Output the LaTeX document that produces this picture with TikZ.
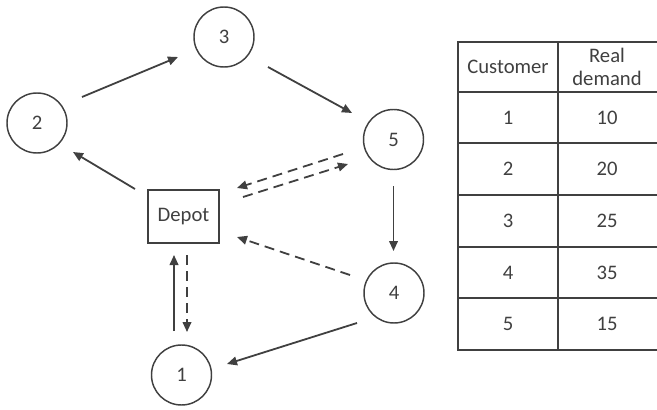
\documentclass[tikz,border=0pt]{standalone}
\usepackage{fontspec}
\setmainfont{Carlito}
\usetikzlibrary{arrows.meta,calc}
\definecolor{ink}{HTML}{404040}
\tikzset{
  cust/.style={circle,draw=ink,line width=1.1pt,minimum size=45pt,inner sep=0pt,text=ink},
  depotbox/.style={rectangle,draw=ink,line width=1.1pt,minimum width=53pt,minimum height=39.5pt,inner sep=0pt,text=ink},
  arr/.style={draw=ink,line width=1.35pt,-{Triangle[length=7.5pt,width=6.5pt]}},
  darr/.style={arr,dash pattern=on 7.5pt off 4.5pt},
  grid/.style={draw=ink,line width=1.1pt},
  cell/.style={text=ink,inner sep=0pt,align=center}
}
\begin{document}
\begin{tikzpicture}[x=0.75pt,y=-0.75pt,font=\fontsize{15.5}{17.5}\selectfont]
\useasboundingbox (0,0) rectangle (657,410);
% nodes
\node[cust] (n3) at (224,37) {3};
\node[cust] (n2) at (37,123) {2};
\node[cust] (n5) at (393.5,139.5) {5};
\node[cust] (n4) at (394,293) {4};
\node[cust] (n1) at (181.5,375) {1};
\node[depotbox] (dep) at (183.5,216.5) {Depot};
% solid arrows
\draw[arr] ($(n2)+(45,-26)$) -- ($(n3)+(-46,20)$);
\draw[arr] ($(n3)+(44,30)$) -- ($(n5)+(-41.5,-26.5)$);
\draw[arr] ($(n5)+(0,46.5)$) -- ($(n4)+(-0.5,-42)$);
\draw[arr] ($(n4)+(-37,30)$) -- ($(n1)+(45.5,-11)$);
\draw[arr] ($(dep)+(-48.5,-27.5)$) -- ($(n2)+(36,29)$);
\draw[arr] ($(n1)+(-7.5,-44)$) -- ($(dep)+(-9.5,38.5)$);
% dashed arrows
\draw[darr] ($(n4)+(-44,-18)$) -- ($(dep)+(53.5,20.5)$);
\draw[darr] ($(dep)+(59.5,-19.5)$) -- ($(n5)+(-45.5,24.5)$);
\draw[darr] ($(n5)+(-50.5,14.5)$) -- ($(dep)+(53.5,-28.5)$);
\draw[darr] ($(dep)+(3.5,38.5)$) -- ($(n1)+(5.5,-43)$);
% table
\draw[grid] (662,42) -- (458,42) -- (458,350) -- (662,350);
\draw[grid] (558,42) -- (558,350);
\foreach \yy in {92,143,195,247,298} \draw[grid] (458,\yy) -- (662,\yy);
\draw[grid] (662,42) -- (662,350);
\node[cell] (h1) at (508,67) {Customer};
\node[cell] (h2) at (607,67) {Real\\demand};
\node[cell] (c1) at (508,117.5) {1};
\node[cell] (d1) at (607,117.5) {10};
\node[cell] (c2) at (508,169) {2};
\node[cell] (d2) at (607,169) {20};
\node[cell] (c3) at (508,221) {3};
\node[cell] (d3) at (607,221) {25};
\node[cell] (c4) at (508,272.5) {4};
\node[cell] (d4) at (607,272.5) {35};
\node[cell] (c5) at (508,324) {5};
\node[cell] (d5) at (607,324) {15};
\end{tikzpicture}
\end{document}
